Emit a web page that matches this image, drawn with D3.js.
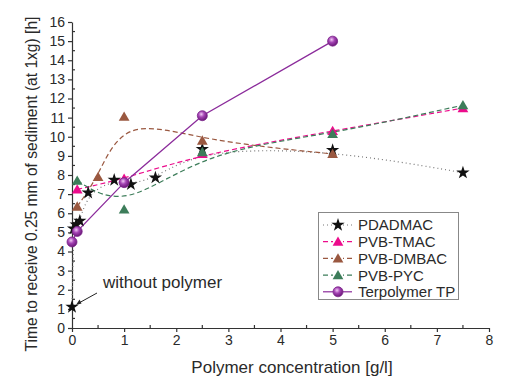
<!DOCTYPE html>
<style>
body { margin: 0; background: #fff; }
text { font-family: "Liberation Sans", Arial, sans-serif; fill: #2a2a2a; }
.axis path, .axis line { stroke: #333; stroke-width: 1.2; }
</style>
<svg width="514" height="386"></svg>
<script src="https://d3js.org/d3.v7.min.js"></script>
<script>

// data: [concentration g/l, hours]
var pdadmac = [[0, 1.1], [0.03, 5.2], [0.08, 5.4], [0.15, 5.6], [0.31, 7.07], [0.81, 7.74],
               [1.13, 7.51], [1.6, 7.86], [2.5, 9.35], [5, 9.3], [7.5, 8.12]];
var pvbTmac = [[0.1, 7.25], [1, 7.8], [2.5, 9.1], [5, 10.3], [7.5, 11.5]];
var pvbDmbac = [[0.1, 6.35], [0.5, 7.9], [1, 11.05], [2.5, 9.8], [5, 9.1]];
var pvbPyc = [[0.1, 7.7], [1, 6.2], [2.5, 9.2], [5, 10.15], [7.5, 11.65]];
var terpolymer = [[0, 4.5], [0.1, 5.05], [1, 7.6], [2.5, 11.1], [5, 15.0]];

var seriesNames = ["PDADMAC", "PVB-TMAC", "PVB-DMBAC", "PVB-PYC", "Terpolymer TP"];
var xTicks = [0, 1, 2, 3, 4, 5, 6, 7, 8];
var yTicks = d3.range(0, 17);

var series = [
  {name: seriesNames[0], data: pdadmac, color: "#111", line: "#777", dash: "1,3", curve: d3.curveBasis, sym: "star"},
  {name: seriesNames[1], data: pvbTmac, color: "#ec0c8c", line: "#ec0c8c", dash: "5,3", curve: d3.curveBasis, sym: "tri"},
  {name: seriesNames[2], data: pvbDmbac, color: "#9a5840", line: "#9a5840", dash: "5,3", curve: d3.curveBasis, sym: "tri"},
  {name: seriesNames[3], data: pvbPyc, color: "#3d7d5a", line: "#3d7d5a", dash: "5,3", curve: d3.curveBasis, sym: "tri"},
  {name: seriesNames[4], data: terpolymer, color: "#8b2b9b", line: "#8b2b9b", dash: null, curve: d3.curveLinear, sym: "ball"}
];

var svg = d3.select("svg");

var x = d3.scaleLinear().domain([0, 8]).range([72, 489]);
var y = d3.scaleLinear().domain([0, 16]).range([328, 22]);

var defs = svg.append("defs");
var grad = defs.append("radialGradient").attr("id", "ball").attr("cx", "40%").attr("cy", "35%").attr("r", "65%");
grad.append("stop").attr("offset", "0%").attr("stop-color", "#f2c8f5");
grad.append("stop").attr("offset", "45%").attr("stop-color", "#a443b4");
grad.append("stop").attr("offset", "100%").attr("stop-color", "#6a1778");

// axes
var xAxis = svg.append("g").attr("class", "axis")
    .attr("transform", "translate(0," + y(0) + ")")
    .call(d3.axisBottom(x).tickValues(xTicks).tickSize(4).tickSizeOuter(0).tickPadding(3));
xAxis.selectAll("text").attr("font-size", 14);
xAxis.selectAll(".minor").data(d3.range(0.5, 8, 1)).enter().append("line")
    .attr("x1", x).attr("x2", x).attr("y1", 0).attr("y2", -3)
    .attr("stroke", "#333").attr("stroke-width", 1.2);

var yAxis = svg.append("g").attr("class", "axis")
    .attr("transform", "translate(" + x(0) + ",0)")
    .call(d3.axisLeft(y).tickValues(yTicks).tickSize(4).tickSizeOuter(0).tickPadding(3));
yAxis.selectAll("text").attr("font-size", 14);
yAxis.selectAll(".minor").data(d3.range(0.5, 16, 1)).enter().append("line")
    .attr("y1", y).attr("y2", y).attr("x1", 0).attr("x2", 3)
    .attr("stroke", "#333").attr("stroke-width", 1.2);

svg.append("text")
    .attr("transform", "rotate(-90)")
    .attr("x", -(y(0) + y(16)) / 2 - 9)
    .attr("y", 37)
    .attr("text-anchor", "middle")
    .attr("font-size", 15.6)
    .text("Time to receive 0.25 mm of sediment (at 1xg)  [h]");

svg.append("text")
    .attr("x", 292)
    .attr("y", 373)
    .attr("text-anchor", "middle")
    .attr("font-size", 17)
    .text("Polymer concentration [g/l]");

// lines
series.forEach(function(s) {
  svg.append("path")
      .datum(s.data)
      .attr("fill", "none")
      .attr("stroke", s.line)
      .attr("stroke-width", s.sym == "ball" ? 1.3 : 1.2)
      .attr("stroke-dasharray", s.dash)
      .attr("d", d3.line().x(function(d) { return x(d[0]); }).y(function(d) { return y(d[1]); }).curve(s.curve));
});

function marker(sel, s) {
  if (s.sym == "ball") {
    sel.append("circle").attr("r", 5).attr("fill", "url(#ball)").attr("stroke", "#7a2389").attr("stroke-width", 0.8);
  } else if (s.sym == "star") {
    sel.append("path").attr("d", d3.symbol().type(d3.symbolStar).size(55)).attr("fill", s.color);
  } else {
    sel.append("path").attr("d", d3.symbol().type(d3.symbolTriangle).size(50))
        .attr("transform", "translate(0,1)").attr("fill", s.color);
  }
}

// markers
series.forEach(function(s) {
  svg.append("g").selectAll("g")
    .data(s.data)
    .enter().append("g")
      .attr("transform", function(d) { return "translate(" + x(d[0]) + "," + y(d[1]) + ")"; })
      .each(function() { marker(d3.select(this), s); });
});

// annotation
svg.append("text")
    .attr("x", 103)
    .attr("y", 288)
    .attr("font-size", 17)
    .text("without polymer");
svg.append("line")
    .attr("x1", 97).attr("y1", 293).attr("x2", 78).attr("y2", 303.5)
    .attr("stroke", "#222").attr("stroke-width", 1);
svg.append("path")
    .attr("d", "M76,305 L79.5,299.5 L81.5,303.5 Z")
    .attr("fill", "#222");

// legend
svg.append("rect")
    .attr("x", 318.5).attr("y", 212.5).attr("width", 140).attr("height", 87)
    .attr("fill", "#fff").attr("stroke", "#888").attr("stroke-width", 1);

var legend = svg.append("g").selectAll("g")
  .data(series)
  .enter().append("g")
    .attr("transform", function(d, i) { return "translate(0," + (225 + i * 16.7) + ")"; });

legend.append("line")
    .attr("x1", 323).attr("x2", 352)
    .attr("stroke", function(d) { return d.line; })
    .attr("stroke-width", 1.2)
    .attr("stroke-dasharray", function(d) { return d.dash; });

legend.append("g")
    .attr("transform", "translate(338,0)")
    .each(function(d) {
      var g = d3.select(this);
      g.append("rect").attr("x", -5).attr("y", -5).attr("width", 10).attr("height", 10).attr("fill", "#fff");
      marker(g, d);
    });

legend.append("text")
    .attr("x", 358)
    .attr("dy", "0.36em")
    .attr("font-size", 15)
    .text(function(d) { return d.name; });

</script>
